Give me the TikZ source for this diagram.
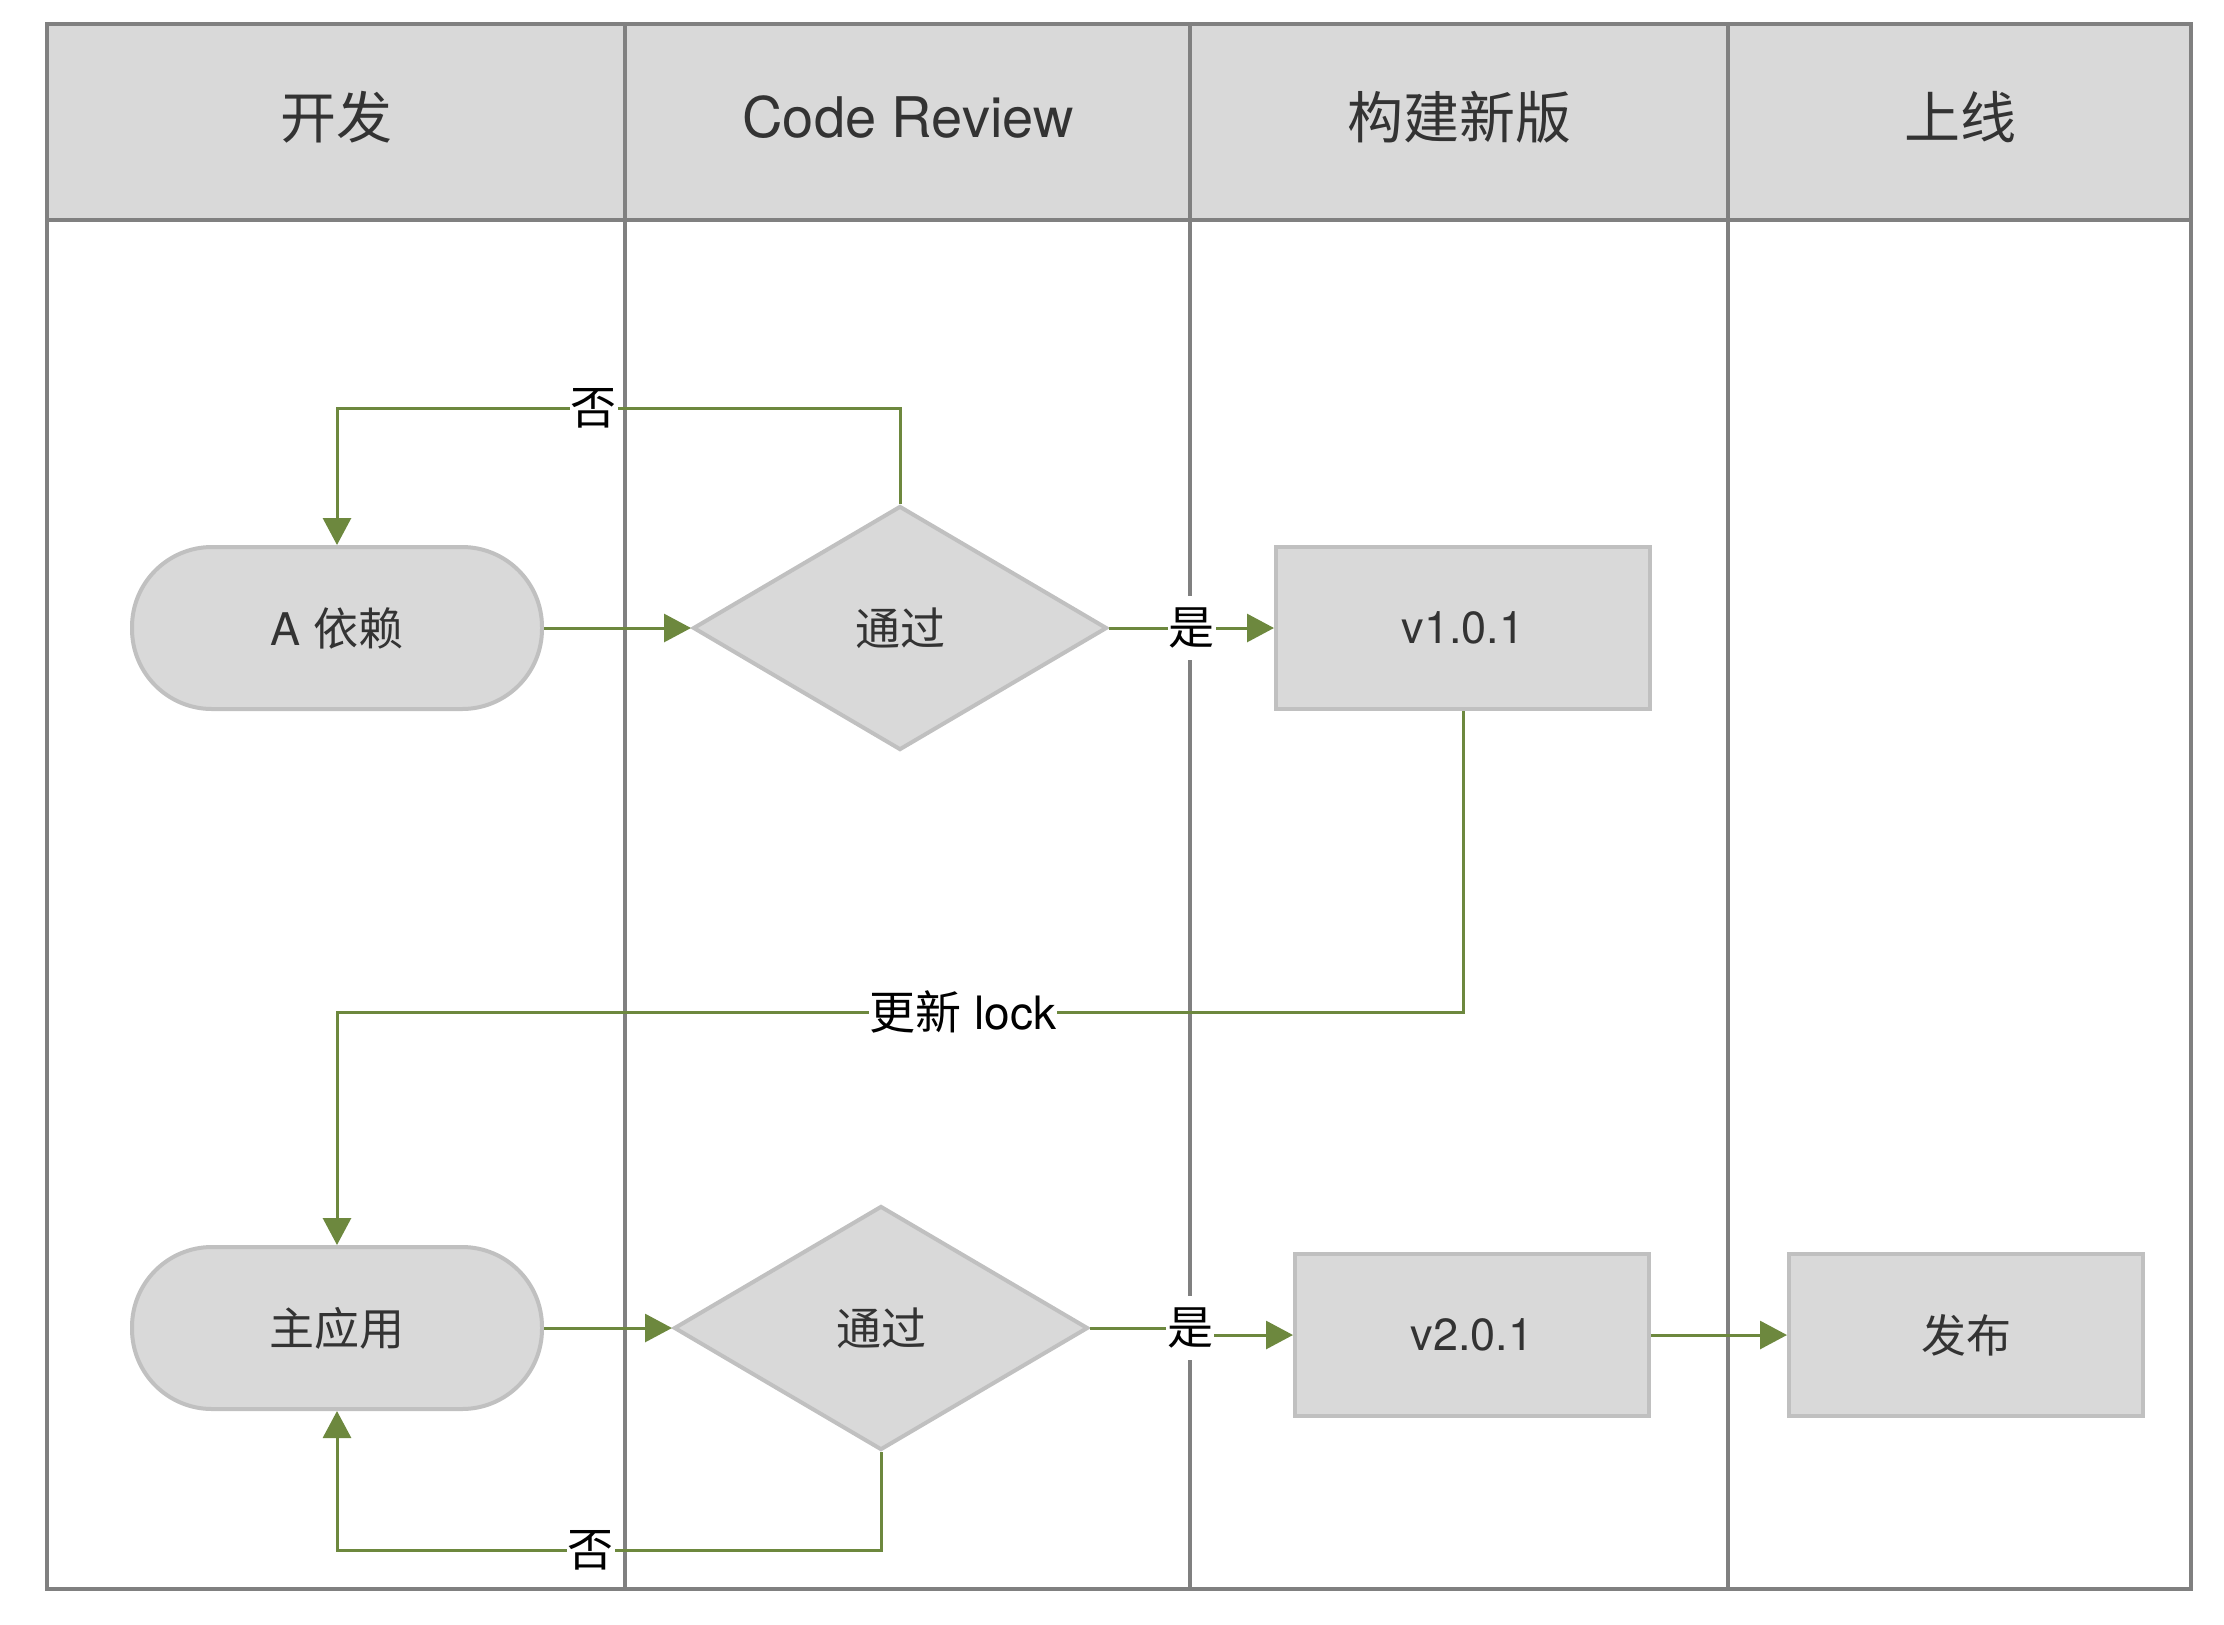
\documentclass[tikz,border=0pt]{standalone}
\usepackage{fontspec}
\setmainfont{TeX Gyre Heros}
\newfontfamily\cjk{Noto Sans CJK SC}
\usetikzlibrary{shapes.geometric, arrows.meta, positioning, calc}

\definecolor{lanegray}{RGB}{128,128,128}
\definecolor{headfill}{RGB}{217,217,217}
\definecolor{shapefill}{RGB}{217,217,217}
\definecolor{shapeline}{RGB}{192,192,192}
\definecolor{flowgreen}{RGB}{109,136,62}
\definecolor{txtgray}{RGB}{51,51,51}

\tikzset{
  lane/.style={draw=lanegray, line width=2pt},
  head/.style={font=\fontsize{28}{34}\selectfont, text=txtgray},
  box/.style={draw=shapeline, fill=shapefill, line width=2pt, text=txtgray,
    font=\fontsize{22.5}{27}\selectfont},
  terminal/.style={box, rectangle, rounded corners=40pt, minimum width=205pt, minimum height=81pt},
  decision/.style={box, diamond, minimum width=207pt, minimum height=122pt, inner sep=0pt},
  process/.style={box, rectangle, minimum width=#1, minimum height=81pt},
  flow/.style={draw=flowgreen, line width=1.5pt, -{Triangle[length=13.5pt, width=14pt]}},
  lbl/.style={fill=white, inner xsep=0.5pt, inner ysep=6pt, text=black,
    font=\fontsize{23}{27}\selectfont}
}

\begin{document}
\begin{tikzpicture}[x=0.5pt, y=-0.5pt]
\useasboundingbox (0,0) rectangle (2224,1624);
\fill[white] (0,0) rectangle (2224,1624);

% Lanes
\fill[headfill] (47,24) rectangle (2191,220);
\draw[lane] (47,24) rectangle (2191,1589);
\draw[lane] (47,220) -- (2191,220);
\foreach \x in {625,1190,1728} {
    \draw[lane] (\x,24) -- (\x,1589);
}
\node[head] (dev) at (336,117) {\cjk 开发};
\node[head] (review) at (908,117) {Code Review};
\node[head] (build) at (1459,117) {\cjk 构建新版};
\node[head] (online) at (1960,117) {\cjk 上线};

% A dependency
\node[terminal] (dep) at (337,628) {A {\cjk 依赖}};
\node[decision] (chk1) at (900,628) {\cjk 通过};
\node[process=187pt] (v1) at (1463,628) {v1.0.1};

% Main app
\node[terminal] (app) at (337,1328) {\cjk 主应用};
\node[decision] (chk2) at (881,1328) {\cjk 通过};
\node[process=177pt] (v2) at (1472,1335) {v2.0.1};
\node[process=177pt] (pub) at (1966,1335) {\cjk 发布};
\coordinate (yes2) at (1190,1328);

% Flows
\draw[flow] (dep.east) -- (chk1.west);
\draw[flow] (chk1.east) -- node[lbl] {\cjk 是} (v1.west);
\draw[flow] (chk1.north) -- ++(0,-96) -| node[lbl, pos=0.272] {\cjk 否} (dep.north);
\draw[flow] (v1.south) -- ++(0,301) -| node[lbl, pos=0.222] {{\cjk 更新} lock} (app.north);
\draw[flow] (app.east) -- (chk2.west);
\draw[flow] (chk2.east) -- (yes2) node[lbl] {\cjk 是} |- (v2.west);
\draw[flow] (v2.east) -- (pub.west);
\draw[flow] (chk2.south) -- ++(0,98) -| node[lbl, pos=0.267] {\cjk 否} (app.south);
\end{tikzpicture}
\end{document}
